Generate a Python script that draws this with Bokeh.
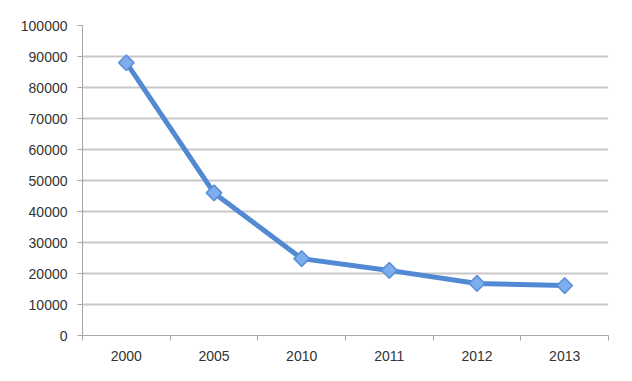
import math
from bokeh.plotting import figure
from bokeh.models import FixedTicker, Range1d, NumeralTickFormatter
from bokeh.embed import file_html
from bokeh.resources import INLINE

years = ["2000", "2005", "2010", "2011", "2012", "2013"]
values = [88000, 46000, 24800, 21000, 16800, 16100]
y_ticks = [0, 10000, 20000, 30000, 40000, 50000, 60000, 70000, 80000, 90000, 100000]

xs = [i + 0.5 for i in range(len(years))]

p = figure(width=616, height=365, output_backend="svg", toolbar_location=None,
           x_range=Range1d(0, len(years)), y_range=Range1d(0, 100000),
           min_border_left=82, min_border_right=8, min_border_top=25, min_border_bottom=30)
p.outline_line_color = None
p.background_fill_color = "white"
p.border_fill_color = "white"

p.line(xs, values, line_color="#5289D3", line_width=5)
p.scatter(xs, values, marker="square", size=11, angle=math.pi / 4, fill_color="#7DAEEB",
          line_color="#5A8FD8", line_width=1.5)

# y axis
p.yaxis.ticker = FixedTicker(ticks=y_ticks)
p.yaxis.formatter = NumeralTickFormatter(format="0")
p.yaxis.axis_line_color = "#A6A6A6"
p.yaxis.major_tick_line_color = "#A6A6A6"
p.yaxis.major_tick_out = 5
p.yaxis.major_tick_in = 0
p.yaxis.minor_tick_line_color = None
p.yaxis.major_label_text_font = "Liberation Sans"
p.yaxis.major_label_text_font_size = "14px"
p.yaxis.major_label_text_color = "#333333"
p.yaxis.major_label_standoff = 10

# x axis
p.xaxis.ticker = FixedTicker(ticks=xs, minor_ticks=list(range(len(years) + 1)))
p.xaxis.major_label_overrides = {x: y for x, y in zip(xs, years)}
p.xaxis.major_tick_line_color = None
p.xaxis.minor_tick_line_color = "#A6A6A6"
p.xaxis.minor_tick_out = 5
p.xaxis.minor_tick_in = 0
p.xaxis.axis_line_color = "#A6A6A6"
p.xaxis.major_label_text_font = "Liberation Sans"
p.xaxis.major_label_text_font_size = "14px"
p.xaxis.major_label_text_color = "#333333"
p.xaxis.major_label_standoff = 9

p.xgrid.grid_line_color = None
p.ygrid.grid_line_color = "#C8C8C8"
p.ygrid.grid_line_width = 2

open("out.html", "w").write(file_html(p, INLINE))
